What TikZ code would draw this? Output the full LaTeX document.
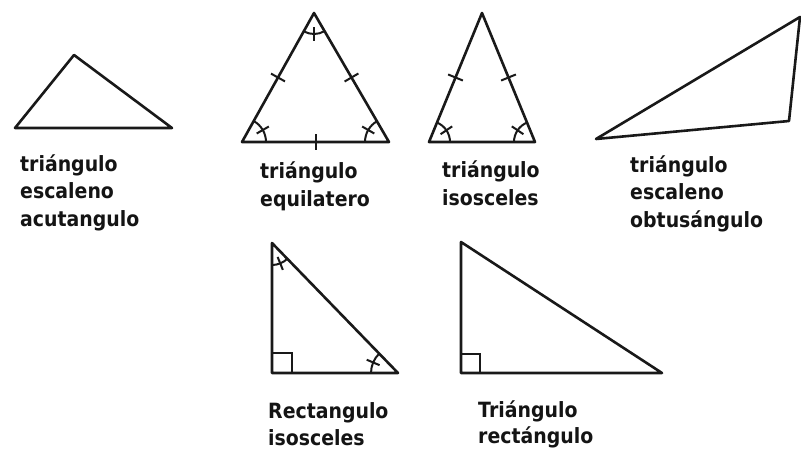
\documentclass[tikz,border=0pt]{standalone}
\usepackage{fontspec}
\newfontfamily\lblfont{DejaVu Sans Bold}[FakeStretch=0.9]
\usetikzlibrary{calc}
\tikzset{
  tri/.style={draw=black!90, line width=2.6pt, line join=round},
  tickline/.style={draw=black!90, line width=2pt},
  lbl/.style={anchor=base west, inner sep=0pt, font=\fontsize{21}{27}\lblfont, text=black!92},
}
\newcommand{\sidetick}[2]{\draw[tickline] ($(#1)!0.5!(#2)!8pt!90:(#2)$) -- ($(#1)!0.5!(#2)!8pt!-90:(#2)$);}
\newcommand{\angmark}[5]{% vertex, start, end, radius, tick angle
  \draw[tickline] ($(#1)+(#2:#4)$) arc[start angle=#2, end angle=#3, radius=#4];
  \draw[tickline] ($(#1)+(#5:#4-7)$) -- ($(#1)+(#5:#4+7)$);}
\begin{document}
\begin{tikzpicture}[x=1pt,y=-1pt]
\useasboundingbox (0,0) rectangle (801,450);
% 1 scalene acute
\coordinate (a1) at (15,128);
\coordinate (a2) at (74,55);
\coordinate (a3) at (172,128);
\draw[tri] (a1) -- (a2) -- (a3) -- cycle;
\node[lbl] (l1a) at (20,171) {triángulo};
\node[lbl] (l1b) at (20,198.5) {escaleno};
\node[lbl] (l1c) at (20,226) {acutangulo};
% 2 equilateral
\coordinate (eA) at (314,13);
\coordinate (eB) at (242,142);
\coordinate (eC) at (389,142);
\draw[tri] (eA) -- (eB) -- (eC) -- cycle;
\sidetick{eA}{eB}
\sidetick{eA}{eC}
\sidetick{eB}{eC}
\angmark{eB}{-61}{0}{24}{-30}
\angmark{eC}{180}{240}{24}{210}
\angmark{eA}{60}{119}{21}{90}
\node[lbl] (l2a) at (260,178) {triángulo};
\node[lbl] (l2b) at (260,206) {equilatero};
% 3 isosceles
\coordinate (iA) at (482,13);
\coordinate (iB) at (429,142);
\coordinate (iC) at (535,142);
\draw[tri] (iA) -- (iB) -- (iC) -- cycle;
\sidetick{iA}{iB}
\sidetick{iA}{iC}
\angmark{iB}{-68}{0}{21}{-34}
\angmark{iC}{180}{248}{21}{214}
\node[lbl] (l3a) at (442,177) {triángulo};
\node[lbl] (l3b) at (442,205) {isosceles};
% 4 scalene obtuse
\coordinate (o1) at (596,139);
\coordinate (o2) at (789,121);
\coordinate (o3) at (800,17);
\draw[tri] (o1) -- (o2) -- (o3) -- cycle;
\node[lbl] (l4a) at (630,172) {triángulo};
\node[lbl] (l4b) at (630,199.5) {escaleno};
\node[lbl] (l4c) at (630,227) {obtusángulo};
% 5 right isosceles
\coordinate (rT) at (272,243);
\coordinate (rL) at (272,373);
\coordinate (rR) at (398,373);
\draw[tri] (rT) -- (rL) -- (rR) -- cycle;
\draw[tickline] ($(rL)+(0,-20)$) -- ($(rL)+(20,-20)$) -- ($(rL)+(20,0)$);
\angmark{rT}{46}{90}{22}{68}
\angmark{rR}{180}{226}{27}{203}
\node[lbl] (l5a) at (268,418) {Rectangulo};
\node[lbl] (l5b) at (268,445) {isosceles};
% 6 right
\coordinate (sT) at (461,242);
\coordinate (sL) at (461,373);
\coordinate (sR) at (662,373);
\draw[tri] (sT) -- (sL) -- (sR) -- cycle;
\draw[tickline] ($(sL)+(0,-19)$) -- ($(sL)+(19,-19)$) -- ($(sL)+(19,0)$);
\node[lbl] (l6a) at (478,417) {Triángulo};
\node[lbl] (l6b) at (478,443) {rectángulo};
\end{tikzpicture}
\end{document}
